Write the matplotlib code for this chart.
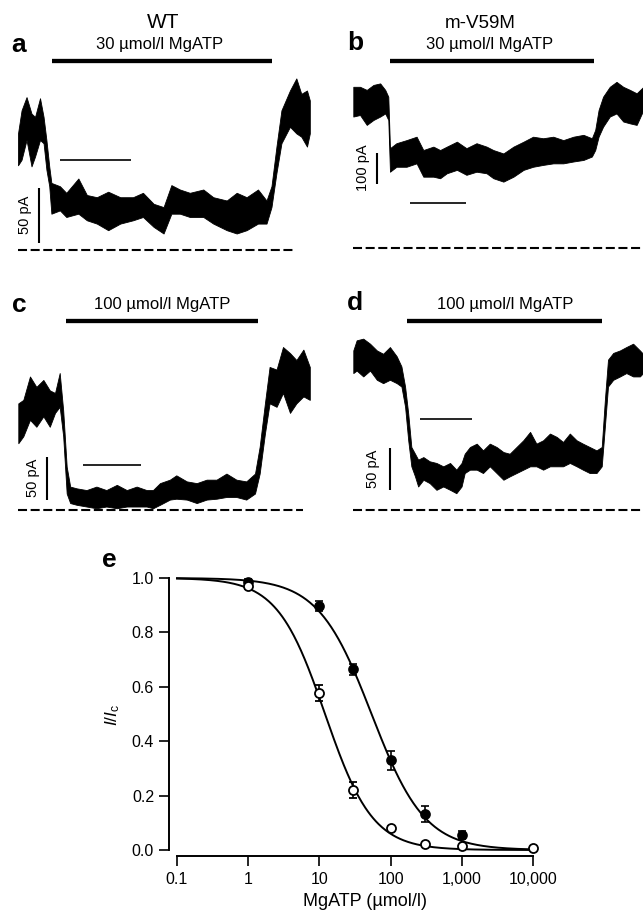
import matplotlib

matplotlib.use("Agg")

import matplotlib.pyplot as plt
import numpy as np

W, H = 643, 914

# ---- current traces: envelope (upper / lower edge of the noisy record), pA vs s
A_T = [0.1, 0.6, 1.3, 2.0, 2.5, 3.2, 3.7, 4.1, 4.5, 4.8, 6.0, 6.9, 8.6, 9.8, 11.2, 12.8, 14.5, 16.3, 17.7, 19.2,
       20.6, 21.7, 22.9, 24.3, 26.2, 27.6, 29.5, 30.9, 32.3, 33.9, 35.1, 35.8, 36.5, 37.2, 38.4, 39.3, 40.0, 40.8, 41.2]
A_HI = [106, 127, 139, 124, 121, 138, 121, 100, 76, 61, 58, 52, 65, 50, 48, 53, 48, 48, 52, 42,
        39, 59, 55, 52, 55, 48, 45, 52, 48, 55, 45, 58, 94, 127, 145, 156, 142, 145, 136]
A_LO = [77, 82, 100, 76, 85, 100, 97, 73, 58, 33, 36, 30, 33, 27, 24, 18, 24, 27, 30, 21,
        15, 33, 33, 30, 30, 24, 18, 15, 18, 24, 24, 39, 70, 97, 112, 106, 103, 94, 106]

B_T = [0, 1.2, 2.4, 3.6, 4.8, 5.7, 6.25, 6.55, 7.7, 9.5, 11.3, 12.5, 14.3, 15.5, 16.7, 18.5, 20.2, 22.0, 23.8, 25.0,
       26.8, 28.6, 30.4, 32.1, 33.9, 35.7, 37.5, 39.3, 41.1, 42.6, 43.2, 43.8, 44.6, 45.8, 47.0, 48.2, 49.4, 50.6, 51.8]
B_HI = [521, 521, 511, 527, 532, 511, 489, 323, 339, 349, 360, 317, 328, 317, 328, 344, 323, 339, 328, 317,
        306, 328, 344, 360, 355, 360, 349, 360, 366, 355, 382, 446, 489, 521, 537, 521, 511, 500, 521]
B_LO = [425, 430, 398, 414, 425, 435, 414, 247, 263, 263, 274, 231, 231, 226, 242, 253, 237, 247, 242, 226,
        215, 231, 253, 263, 269, 274, 274, 280, 285, 296, 317, 360, 392, 425, 435, 409, 403, 398, 446]

C_T = [0, 0.86, 2.0, 3.1, 4.3, 5.4, 6.3, 7.1, 7.7, 8.3, 8.9, 10.0, 11.7, 13.4, 15.1, 16.9, 18.6, 20.3, 22.0, 23.1,
       24.3, 26.0, 27.1, 28.9, 30.6, 32.3, 34.0, 35.7, 37.4, 39.1, 40.6, 41.4, 42.3, 43.1, 44.3, 45.4, 46.6, 47.7, 48.9, 50.0]
C_HI = [123, 127, 154, 142, 150, 138, 135, 158, 115, 50, 27, 25, 23, 27, 23, 29, 23, 27, 23, 23,
        31, 35, 40, 33, 31, 35, 35, 42, 35, 33, 42, 73, 123, 165, 162, 188, 181, 173, 185, 165]
C_LO = [77, 85, 104, 96, 108, 96, 112, 119, 85, 19, 8, 6, 4, 2, 4, 2, 4, 4, 4, 2,
        6, 12, 13, 12, 8, 12, 13, 15, 15, 12, 19, 42, 88, 123, 119, 135, 112, 123, 131, 127]

D_T = [0, 0.64, 1.9, 3.2, 4.5, 5.7, 7.0, 8.3, 9.2, 9.9, 10.5, 11.1, 11.8, 12.4, 13.4, 14.6, 15.9, 17.2, 18.5, 19.7,
       20.7, 21.3, 22.3, 23.6, 24.8, 26.1, 27.4, 28.7, 29.9, 31.2, 32.5, 33.8, 35.0, 36.3, 37.6, 38.9, 40.1, 41.4, 42.7, 43.9,
       45.2, 46.5, 47.5, 48.1, 48.7, 49.7, 51.0, 52.2, 53.5, 54.8, 55.4]
D_HI = [190, 202, 204, 198, 190, 186, 194, 183, 171, 147, 115, 75, 67, 60, 63, 58, 56, 52, 56, 48,
        56, 67, 75, 79, 71, 79, 75, 69, 67, 75, 83, 93, 79, 83, 91, 87, 81, 91, 83, 79,
        75, 71, 75, 131, 179, 187, 190, 194, 198, 190, 186]
D_LO = [163, 166, 159, 166, 155, 151, 155, 151, 147, 123, 83, 52, 40, 28, 36, 32, 24, 28, 24, 20,
        28, 44, 48, 48, 44, 52, 44, 36, 40, 44, 48, 52, 52, 48, 52, 52, 52, 56, 52, 48,
        44, 44, 52, 99, 147, 155, 159, 163, 159, 159, 163]

# MgATP application (s) and scale bars
APP_ON = [4.9, 6.55, 8.2, 10.3]
APP_OFF = [35.9, 43.0, 41.1, 47.6]
APP_LABEL = ["30 \u00b5mol/l MgATP", "30 \u00b5mol/l MgATP", "100 \u00b5mol/l MgATP", "100 \u00b5mol/l MgATP"]
SCALE_PA = [50, 100, 50, 50]
SCALE_S = 10

# ---- panel e: concentration-response
MUT_CONC = [1, 10, 30, 100, 300, 1000]
MUT_MEAN = [0.985, 0.897, 0.665, 0.33, 0.132, 0.055]
MUT_SEM = [0.012, 0.02, 0.02, 0.035, 0.03, 0.015]
WT_CONC = [1, 10, 30, 100, 300, 1000, 10000]
WT_MEAN = [0.97, 0.577, 0.22, 0.08, 0.022, 0.015, 0.007]
WT_SEM = [0.01, 0.03, 0.03, 0.01, 0.005, 0.004, 0.0]
WT_IC50, WT_H = 12.0, 1.3
MUT_IC50, MUT_H = 54.0, 1.16

XTICKS = [0.1, 1, 10, 100, 1000, 10000]
XTICKLABELS = ["0.1", "1", "10", "100", "1,000", "10,000"]
YTICKS = [0.0, 0.2, 0.4, 0.6, 0.8, 1.0]

plt.rcParams.update({
    "font.family": ["Liberation Sans", "DejaVu Sans"],
    "mathtext.fontset": "custom",
    "mathtext.rm": "Liberation Sans",
    "mathtext.it": "Liberation Sans:italic",
    "lines.scale_dashes": False,
})


def fx(x):
    return x / W


def fy(y):
    return 1 - y / H


def trace_axes(fig, box, t0, pps, zero, ppa):
    left, top, right, bottom = box
    ax = fig.add_axes([fx(left), fy(bottom), (right - left) / W, (bottom - top) / H])
    ax.set_xlim((left - t0) / pps, (right - t0) / pps)
    ax.set_ylim((zero - bottom) / ppa, (zero - top) / ppa)
    ax.axis("off")
    return ax


# layout of the four trace panels (pixel boxes and scale mapping)
LAYOUT = [
    dict(box=(5, 50, 320, 262), t0=17.3, pps=7.1, zero=250, ppa=1.1,
         app_y=61, tbar=(60, 160), vbar=(39, 243), vlab=(25, 215), dash_end=39.1),
    dict(box=(340, 50, 643, 262), t0=353.3, pps=5.6, zero=248.3, ppa=0.31,
         app_y=61, tbar=(410, 203), vbar=(377, 184), vlab=(363, 168), dash_end=51.8),
    dict(box=(5, 310, 320, 522), t0=18.3, pps=5.83, zero=510, ppa=0.867,
         app_y=321, tbar=(83, 465), vbar=(47, 500), vlab=(33, 478), dash_end=48.8),
    dict(box=(340, 310, 643, 522), t0=353.3, pps=5.23, zero=510, ppa=0.84,
         app_y=321, tbar=(420, 419), vbar=(390, 490), vlab=(373, 469), dash_end=55.4),
]
TRACES = [(A_T, A_HI, A_LO), (B_T, B_HI, B_LO), (C_T, C_HI, C_LO), (D_T, D_HI, D_LO)]
LETTERS = ["a", "b", "c", "d"]
LETTER_POS = [(19, 45), (355, 43), (19, 305), (355, 303)]
LABEL_POS = [(160, 45), (490, 45), (162, 304), (505, 304)]

fig = plt.figure(figsize=(W / 100, H / 100), dpi=100)
fig.patch.set_facecolor("white")

for i, lay in enumerate(LAYOUT):
    ax = trace_axes(fig, lay["box"], lay["t0"], lay["pps"], lay["zero"], lay["ppa"])
    t, hi, lo = TRACES[i]
    ax.fill_between(t, lo, hi, color="black", lw=0.6, zorder=3)
    pps, ppa, t0, zero = lay["pps"], lay["ppa"], lay["t0"], lay["zero"]
    # application bar
    app_i = (zero - lay["app_y"]) / ppa
    ax.plot([APP_ON[i], APP_OFF[i]], [app_i, app_i], color="black", lw=3.1, solid_capstyle="butt")
    # zero-current dashed line
    ax.plot([t[0], lay["dash_end"]], [0, 0], color="black", lw=1.5, dashes=(6.5, 2.6))
    # time scale bar
    tx, ty = lay["tbar"]
    ts = (tx - t0) / pps
    ax.plot([ts, ts + SCALE_S], [(zero - ty) / ppa] * 2, color="black", lw=1.2, solid_capstyle="butt")
    # current scale bar
    vx, vy = lay["vbar"]
    vt = (vx - t0) / pps
    vi = (zero - vy) / ppa
    ax.plot([vt, vt], [vi, vi + SCALE_PA[i]], color="black", lw=1.5, solid_capstyle="butt")
    fig.text(fx(lay["vlab"][0]), fy(lay["vlab"][1]), "%d pA" % SCALE_PA[i], rotation=90,
             ha="center", va="center", fontsize=10.5)
    fig.text(fx(LABEL_POS[i][0]), fy(LABEL_POS[i][1]), APP_LABEL[i], ha="center", va="center", fontsize=12)
    fig.text(fx(LETTER_POS[i][0]), fy(LETTER_POS[i][1]), LETTERS[i], ha="center", va="center",
             fontsize=19, weight="bold")

fig.text(fx(163), fy(22), "WT", ha="center", va="center", fontsize=15)
fig.text(fx(480), fy(24), "m-V59M", ha="center", va="center", fontsize=13.5)

# ---- panel e
ax = fig.add_axes([fx(177), fy(850), (533 - 177) / W, (850 - 578) / H])
ax.set_xscale("log")
ax.set_xlim(0.1, 10000)
ax.set_ylim(0, 1)

xs = np.logspace(-1, 4, 400)
ax.plot(xs, 1 / (1 + (xs / WT_IC50) ** WT_H), color="black", lw=1.4, clip_on=False)
ax.plot(xs, 1 / (1 + (xs / MUT_IC50) ** MUT_H), color="black", lw=1.4, clip_on=False)

ax.errorbar(MUT_CONC, MUT_MEAN, yerr=MUT_SEM, fmt="o", color="black", mfc="black", mec="black",
            ms=6.5, mew=1.2, capsize=2.6, elinewidth=1.2, capthick=1.2, clip_on=False, zorder=4)
ax.errorbar(WT_CONC, WT_MEAN, yerr=WT_SEM, fmt="o", color="black", mfc="white", mec="black",
            ms=6.5, mew=1.3, capsize=2.6, elinewidth=1.2, capthick=1.2, clip_on=False, zorder=5)

for s in ["top", "right"]:
    ax.spines[s].set_visible(False)
ax.spines["left"].set_position(("outward", 6))
ax.spines["bottom"].set_position(("outward", 4))
for s in ["left", "bottom"]:
    ax.spines[s].set_linewidth(1.4)
ax.set_xticks(XTICKS)
ax.set_xticklabels(XTICKLABELS)
ax.xaxis.set_minor_locator(matplotlib.ticker.NullLocator())
ax.set_yticks(YTICKS)
ax.set_yticklabels(["%.1f" % v for v in YTICKS])
ax.tick_params(axis="both", direction="out", length=7.5, width=1.2, labelsize=11.5)
ax.tick_params(axis="y", pad=3)
ax.tick_params(axis="x", pad=4)

fig.text(fx(113), fy(715), r"$I/I_{\mathrm{c}}$", rotation=90, ha="center", va="center", fontsize=12.5)
fig.text(fx(365), fy(902), "MgATP (\u00b5mol/l)", ha="center", va="center", fontsize=13)
fig.text(fx(109), fy(560), "e", ha="center", va="center", fontsize=19, weight="bold")

fig.savefig("out.png", dpi=100)
